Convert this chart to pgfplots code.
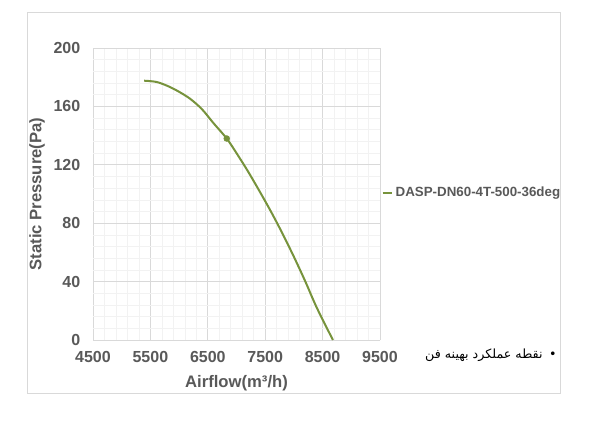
\documentclass[border=0pt]{standalone}
\usepackage{pgfplots}
\pgfplotsset{compat=1.18}
\usepackage{fontspec}
\setmainfont{Liberation Sans}
\newfontfamily\arabicfont[Script=Arabic]{DejaVu Sans}
\TeXXeTstate=1
\definecolor{txt}{HTML}{595959}
\definecolor{curve}{HTML}{77933C}
\definecolor{gmaj}{HTML}{D9D9D9}
\definecolor{gmin}{HTML}{F2F2F2}
\begin{document}
\begin{tikzpicture}[x=0.75pt,y=0.75pt]
\useasboundingbox[fill=white] (0,0) rectangle (600,422);
\draw[gmaj,line width=0.5pt] (27,29) rectangle (560,410);
\begin{axis}[
  at={(69.75pt,61.5pt)}, anchor=south west,
  scale only axis, width=215.25pt, height=219pt,
  xmin=4500, xmax=9500, ymin=0, ymax=200,
  xtick={4500,5500,...,9500}, ytick={0,40,...,200},
  minor x tick num=4, minor y tick num=4,
  grid=both,
  major grid style={gmaj, line width=0.5pt},
  minor grid style={gmin, line width=0.4pt},
  axis line style={draw=none},
  major tick length=0pt, minor tick length=0pt,
  /pgf/number format/assume math mode=true,
  /pgf/number format/1000 sep={},
  tick label style={font=\fontsize{12}{14}\selectfont\bfseries, text=txt},
  xticklabel style={yshift=-5pt},
  yticklabel style={xshift=-6pt},
  xlabel={Airflow(m³/h)},
  ylabel={Static Pressure(Pa)},
  label style={font=\fontsize{12.5}{14}\selectfont\bfseries, text=txt},
  x label style={at={(axis description cs:0.5,-0.147)}, anchor=center},
  y label style={at={(axis description cs:-0.195,0.5)}, anchor=center},
  legend style={at={(axis description cs:1.005,0.503)}, anchor=west, draw=none, fill=none,
    font=\fontsize{10}{12}\selectfont\bfseries, text=txt, inner xsep=0pt, inner ysep=0pt,
    /tikz/every even column/.append style={column sep=0pt}},
  legend image code/.code={\draw[#1, line width=1.5pt] (0pt,0pt) -- (7pt,0pt);},
  legend cell align=left,
]
\addplot[curve, line width=1.5pt, smooth] coordinates {
(5390,177.6) (5600,176.8) (5800,174) (6000,170) (6200,165) (6400,158)
(6600,148.5) (6830,138) (7000,128) (7200,115.5) (7400,102) (7600,88)
(7800,73) (8000,57) (8200,40) (8400,22) (8680,0)
};
\addlegendentry{DASP-DN60-4T-500-36deg}
\addplot[only marks, mark=*, mark size=2.2pt, curve, forget plot] coordinates {(6830,138)};
\end{axis}
\node[anchor=east, inner sep=0pt, font=\fontsize{9.5}{11}\selectfont] at (557,67)
  {{\arabicfont\beginR نقطه عملکرد بهینه فن\endR}\hspace{5pt}{\arabicfont •}};
\end{tikzpicture}
\end{document}
